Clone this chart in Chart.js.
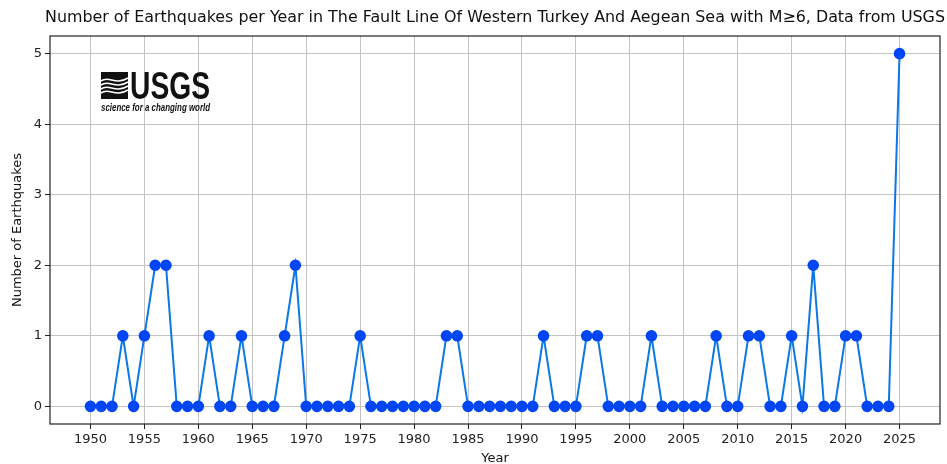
<!DOCTYPE html>
<html>
<head>
<meta charset="utf-8">
<script src="https://cdn.jsdelivr.net/npm/chart.js@4.4.1/dist/chart.umd.min.js"></script>
<style>
html,body{margin:0;padding:0;background:#fff;}
#wrap{width:947px;height:464px;position:relative;}
</style>
</head>
<body>
<div id="wrap"><canvas id="c" width="947" height="464"></canvas></div>
<script>
const years = [];
for (let y = 1950; y <= 2025; y++) years.push(y);
const counts = [
  0,0,0,1,0,1,2,2,0,0,   // 1950-1959
  0,1,0,0,1,0,0,0,1,2,   // 1960-1969
  0,0,0,0,0,1,0,0,0,0,   // 1970-1979
  0,0,0,1,1,0,0,0,0,0,   // 1980-1989
  0,0,1,0,0,0,1,1,0,0,   // 1990-1999
  0,0,1,0,0,0,0,0,1,0,   // 2000-2009
  0,1,1,0,0,1,0,2,0,0,   // 2010-2019
  1,1,0,0,0,5            // 2020-2025
];
const xTicks = [1950,1955,1960,1965,1970,1975,1980,1985,1990,1995,2000,2005,2010,2015,2020,2025];
const yTicks = [0,1,2,3,4,5];
const titleText = 'Number of Earthquakes per Year in The Fault Line Of Western Turkey And Aegean Sea with M\u22656, Data from USGS';
const xLabel = 'Year';
const yLabel = 'Number of Earthquakes';

const FONT = "'DejaVu Sans', sans-serif";

const deco = {
  id: 'deco',
  afterDraw(chart) {
    const ctx = chart.ctx, a = chart.chartArea;
    ctx.save();
    // frame
    ctx.strokeStyle = '#222';
    ctx.lineWidth = 1.2;
    ctx.strokeRect(a.left, a.top, a.right - a.left, a.bottom - a.top);
    // title
    ctx.fillStyle = '#111';
    ctx.font = '16px ' + FONT;
    ctx.textAlign = 'center';
    ctx.textBaseline = 'middle';
    const tw = ctx.measureText(titleText).width;
    ctx.save();
    ctx.translate((a.left + a.right) / 2, 18);
    ctx.scale(Math.min(1, 900 / tw), 1);
    ctx.fillText(titleText, 0, 0);
    ctx.restore();
    // axis labels
    ctx.font = '13px ' + FONT;
    ctx.fillText(xLabel, (a.left + a.right) / 2, 459);
    ctx.translate(18, (a.top + a.bottom) / 2);
    ctx.rotate(-Math.PI / 2);
    ctx.fillText(yLabel, 0, 0);
    ctx.restore();

    // USGS logo
    ctx.save();
    const bx = 101, by = 72, bw = 27, bh = 27;
    ctx.fillStyle = '#111';
    ctx.fillRect(bx, by, bw, bh);
    ctx.strokeStyle = '#fff';
    ctx.lineWidth = 1.6;
    for (let k = 0; k < 4; k++) {
      const yy = by + 9 + k * 4;
      ctx.beginPath();
      ctx.moveTo(bx, yy);
      ctx.bezierCurveTo(bx + 8, yy - 6, bx + 14, yy + 5, bx + bw, yy - 3);
      ctx.stroke();
    }
    ctx.fillStyle = '#111';
    ctx.font = "bold 38px 'Liberation Sans Narrow', 'Liberation Sans', sans-serif";
    ctx.textBaseline = 'alphabetic';
    ctx.textAlign = 'left';
    const w = ctx.measureText('USGS').width;
    ctx.save();
    ctx.translate(130, 99);
    ctx.scale(80 / w, 1);
    ctx.fillText('USGS', 0, 0);
    ctx.restore();
    ctx.font = "italic bold 10px 'Liberation Sans Narrow', 'Liberation Sans', sans-serif";
    const w2 = ctx.measureText('science for a changing world').width;
    ctx.translate(101, 111);
    ctx.scale(109 / w2, 1);
    ctx.fillText('science for a changing world', 0, 0);
    ctx.restore();
  }
};

new Chart(document.getElementById('c'), {
  type: 'line',
  data: {
    datasets: [{
      data: years.map((y, i) => ({ x: y, y: counts[i] })),
      borderColor: '#0a78e6',
      backgroundColor: '#0046f5',
      pointBackgroundColor: '#0046f5',
      pointBorderColor: '#0046f5',
      borderWidth: 2,
      pointRadius: 4.8,
      pointHoverRadius: 4.8,
      tension: 0,
      fill: false
    }]
  },
  options: {
    responsive: false,
    animation: false,
    events: [],
    layout: { padding: { top: 36, right: 7, left: 0, bottom: 0 } },
    plugins: { legend: { display: false }, title: { display: false }, tooltip: { enabled: false } },
    scales: {
      x: {
        type: 'linear',
        min: 1946.25,
        max: 2028.75,
        afterBuildTicks(s) { s.ticks = xTicks.map(v => ({ value: v })); },
        afterFit(s) { s.height = 40; },
        grid: { color: '#c4c4c4', lineWidth: 1, tickColor: '#222', tickLength: 5, drawTicks: true },
        border: { display: false },
        ticks: { color: '#222', font: { family: FONT, size: 13 }, padding: 3, maxRotation: 0, autoSkip: false,
          callback: v => String(v) }
      },
      y: {
        type: 'linear',
        min: -0.25,
        max: 5.25,
        afterBuildTicks(s) { s.ticks = yTicks.map(v => ({ value: v })); },
        afterFit(s) { s.width = 50; },
        grid: { color: '#c4c4c4', lineWidth: 1, tickColor: '#222', tickLength: 5, drawTicks: true },
        border: { display: false },
        ticks: { color: '#222', font: { family: FONT, size: 13 }, padding: 3, autoSkip: false,
          callback: v => String(v) }
      }
    }
  },
  plugins: [deco]
});
</script>
</body>
</html>
